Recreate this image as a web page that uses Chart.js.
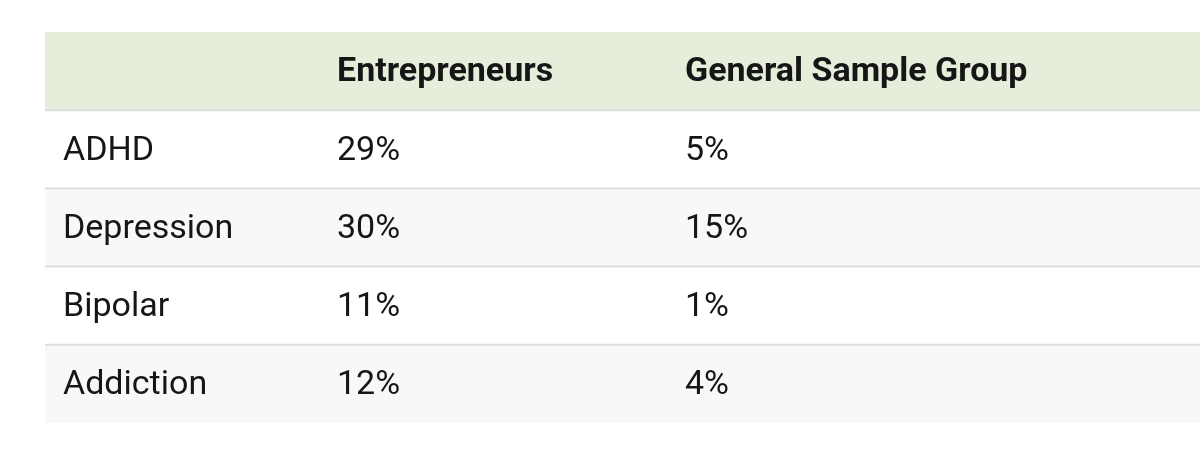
<!DOCTYPE html>
<html>
<head>
<meta charset="utf-8">
<script src="https://cdn.jsdelivr.net/npm/chart.js@4/dist/chart.umd.min.js"></script>
<style>
  html, body { margin: 0; padding: 0; background: #fff; }
  canvas { display: block; }
</style>
</head>
<body>
<canvas id="chart-table" width="1200" height="469"></canvas>
<script>
const conditions = ['ADHD', 'Depression', 'Bipolar', 'Addiction'];
const columnHeaders = ['', 'Entrepreneurs', 'General Sample Group'];
const entrepreneurs = [29, 30, 11, 12];
const generalSample = [5, 15, 1, 4];

const rowKeys = ['header', ...conditions];
// left edge of each column's text, in x-scale units (offset from the table's left edge)
const columnStarts = [18, 292, 640];
const TABLE_WIDTH = 1155;

const rowFill = rowKeys.map((key, i) => {
  if (i === 0) return '#e5eedb';
  return i % 2 === 1 ? '#ffffff' : '#f8f8f8';
});

const tableText = {
  id: 'tableText',
  afterDraw(chart) {
    const { ctx, scales } = chart;
    const x = scales.x;
    const y = scales.y;
    ctx.save();

    // row separators, halfway between category rows
    ctx.strokeStyle = '#dddddd';
    ctx.lineWidth = 2;
    for (let i = 0; i < rowKeys.length - 1; i++) {
      const sy = y.getPixelForValue(i + 0.5);
      ctx.beginPath();
      ctx.moveTo(x.getPixelForValue(0), sy);
      ctx.lineTo(x.getPixelForValue(TABLE_WIDTH), sy);
      ctx.stroke();
    }

    ctx.textBaseline = 'middle';
    ctx.textAlign = 'left';
    ctx.fillStyle = '#161616';

    ctx.font = 'bold 34px Roboto';
    columnHeaders.forEach((label, j) => {
      ctx.fillText(label, x.getPixelForValue(columnStarts[j]), y.getPixelForValue(0) + 1);
    });

    ctx.font = '34px Roboto';
    conditions.forEach((name, i) => {
      const cy = y.getPixelForValue(i + 1) + 2;
      const cells = [name, `${entrepreneurs[i]}%`, `${generalSample[i]}%`];
      cells.forEach((text, j) => ctx.fillText(text, x.getPixelForValue(columnStarts[j]), cy));
    });
    ctx.restore();
  },
};

const chart = new Chart(document.getElementById('chart-table').getContext('2d'), {
  type: 'bar',
  data: {
    labels: rowKeys,
    datasets: [
      {
        data: rowKeys.map(() => [0, TABLE_WIDTH]),
        backgroundColor: rowFill,
        borderWidth: 0,
        barPercentage: 1,
        categoryPercentage: 1,
      },
    ],
  },
  options: {
    indexAxis: 'y',
    responsive: false,
    animation: false,
    devicePixelRatio: 1,
    layout: { padding: { left: 45, right: 0, top: 32, bottom: 46 } },
    plugins: { legend: { display: false }, tooltip: { enabled: false } },
    scales: {
      x: { type: 'linear', min: 0, max: TABLE_WIDTH, display: false },
      y: { type: 'category', display: false },
    },
  },
  plugins: [tableText],
});
</script>
</body>
</html>
